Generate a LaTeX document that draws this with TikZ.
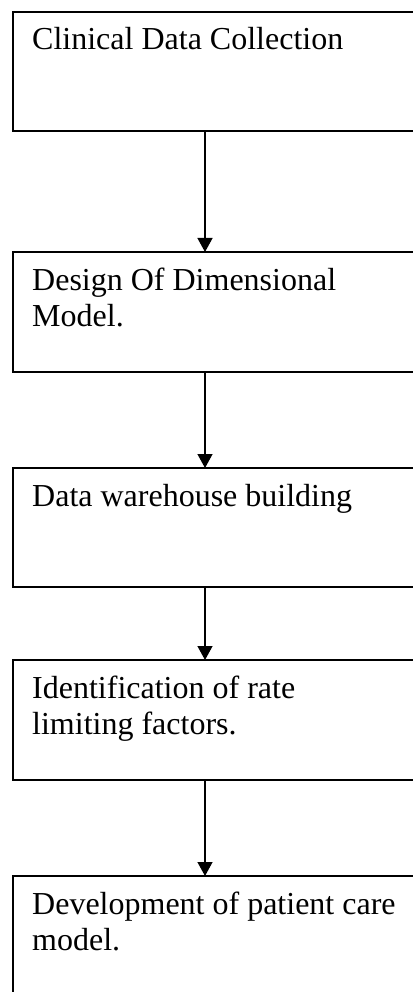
\documentclass[tikz,border=0pt]{standalone}
\usepackage{fontspec}
\setmainfont{Liberation Serif}
\usetikzlibrary{arrows.meta}
\tikzset{
  stepbox/.style={draw=black, line width=1.8pt, rectangle, minimum width=410pt, anchor=north west, inner sep=0pt, outer sep=0pt},
  steptext/.style={anchor=base west, inner sep=0pt, font=\fontsize{32pt}{36pt}\selectfont},
  arr/.style={draw=black, line width=1.3pt, -{Triangle[width=15pt,length=14pt]}}
}
\newcommand{\twolines}[2]{\begin{tabular}[t]{@{}l@{}}#1\\#2\end{tabular}}
\begin{document}
\begin{tikzpicture}
\useasboundingbox (0,0) rectangle (412pt,-992pt);
\node[stepbox, minimum height=119pt] (b1) at (13pt,-12pt) {};
\node[stepbox, minimum height=120pt] (b2) at (13pt,-252pt) {};
\node[stepbox, minimum height=119pt] (b3) at (13pt,-468pt) {};
\node[stepbox, minimum height=120pt] (b4) at (13pt,-660pt) {};
\node[stepbox, minimum height=125pt] (b5) at (13pt,-876pt) {};
\node[steptext] (t1) at ([xshift=19pt,yshift=-38pt]b1.north west) {Clinical Data Collection};
\node[steptext] (t2) at ([xshift=19pt,yshift=-38pt]b2.north west) {\twolines{Design Of Dimensional}{Model.}};
\node[steptext] (t3) at ([xshift=19pt,yshift=-38pt]b3.north west) {Data warehouse building};
\node[steptext] (t4) at ([xshift=19pt,yshift=-38pt]b4.north west) {\twolines{Identification of rate}{limiting factors.}};
\node[steptext] (t5) at ([xshift=19pt,yshift=-38pt]b5.north west) {\twolines{Development of patient care}{model.}};
\draw[arr] ([xshift=192pt]b1.south west) -- ([xshift=192pt]b2.north west);
\draw[arr] ([xshift=192pt]b2.south west) -- ([xshift=192pt]b3.north west);
\draw[arr] ([xshift=192pt]b3.south west) -- ([xshift=192pt]b4.north west);
\draw[arr] ([xshift=192pt]b4.south west) -- ([xshift=192pt]b5.north west);
\end{tikzpicture}
\end{document}
